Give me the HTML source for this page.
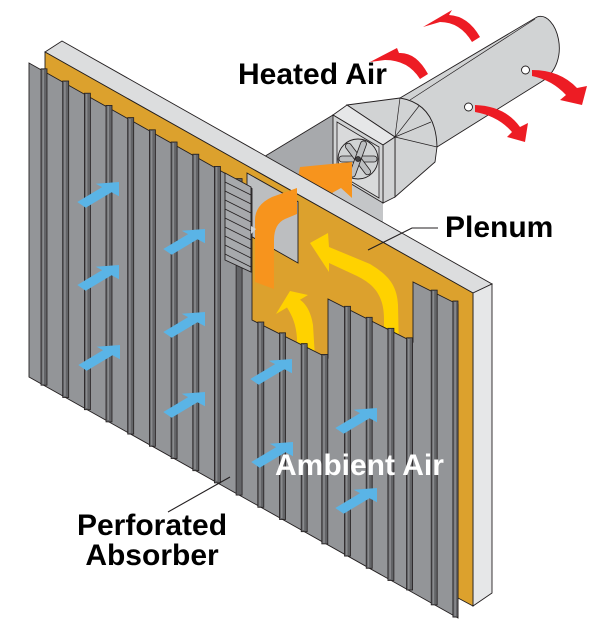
<!DOCTYPE html>
<html>
<head>
<meta charset="utf-8">
<style>
  html,body{margin:0;padding:0;background:#fff;}
  svg{display:block;}
  .t{font-family:"Liberation Sans",Arial,sans-serif;font-weight:bold;font-size:30px;}
</style>
</head>
<body>
<svg width="615" height="629" viewBox="0 0 615 629" xmlns="http://www.w3.org/2000/svg">
  <rect width="615" height="629" fill="#fff"/>

  <!-- cylinder duct -->
  <path d="M400,98 L537,17 C556,10 574,62 541,82 L437,147 L420,120 Z" fill="#d1d3d4" stroke="#231f20" stroke-width="0.9"/>
  <line x1="410" y1="100" x2="535" y2="19" stroke="#231f20" stroke-width="0.7"/>

  <!-- transition piece -->
  <path d="M347,105 L400,98 Q436,104 437,147 L435,162 L395,197 L395,137 Z" fill="#d1d3d4" stroke="#231f20" stroke-width="0.9"/>
  <g stroke="#231f20" stroke-width="0.7">
    <line x1="395" y1="137" x2="400" y2="98"/>
    <line x1="395" y1="137" x2="419" y2="106"/>
    <line x1="395" y1="137" x2="431" y2="122"/>
    <line x1="395" y1="137" x2="437" y2="147"/>
  </g>

  <!-- duct between wall and fan box -->
  <polygon points="262,158 333,115 333,240 262,240" fill="#a7a9ac"/>
  <line x1="262" y1="158" x2="333" y2="115" stroke="#231f20" stroke-width="0.9"/>
  <polygon points="333,173 383,203 383,240 333,240" fill="#c4c6c8"/>

  <!-- fan box -->
  <polygon points="333,115 347,105 395,137 383,145" fill="#e6e7e8" stroke="#231f20" stroke-width="0.9"/>
  <polygon points="383,145 395,137 395,197 383,203" fill="#d1d3d4" stroke="#231f20" stroke-width="0.9"/>
  <polygon points="333,115 383,145 383,203 333,173" fill="#d1d3d4" stroke="#231f20" stroke-width="0.9"/>
  <polygon points="337,122 379,147 379,198 337,173" fill="#d9dadb" stroke="#231f20" stroke-width="0.8"/>
  <circle cx="358" cy="159" r="20" fill="#d1d3d4" stroke="#231f20" stroke-width="0.9"/>
  <g transform="translate(358,159)" fill="#bcbec0" stroke="#231f20" stroke-width="0.8">
    <rect x="-19" y="-3" width="38" height="6" rx="3"/>
    <rect x="-19" y="-3" width="38" height="6" rx="3" transform="rotate(53)"/>
    <rect x="-19" y="-3" width="38" height="6" rx="3" transform="rotate(110)"/>
    <circle r="2.5" fill="#414042"/>
  </g>

  <!-- orange arrow head entering fan -->
  <polygon points="300,167 352,162 352,198 341,188 312,204 295,192" fill="#f7941d"/>

  <!-- red heated air arrows -->
  <g fill="#ed1c24">
    <path d="M480,37 Q468,16 449,15 L452,10 L423,27 L440,22 Q460,22 472,42 Z"/>
    <path d="M428,74 Q416,52 399,53 L397,48 L370,62 L385,60 Q408,60 420,79 Z"/>
    <path d="M532,70 Q560,70 577,88 L587,86 L582,105 L560,100 L566,95 Q552,80 532,76 Z"/>
    <path d="M475,105 Q505,106 520,127 L528,123 L525,142 L507,137 L512,132 Q498,116 475,112 Z"/>
  </g>
  <circle cx="525.5" cy="70" r="4" fill="#fff" stroke="#231f20" stroke-width="0.9"/>
  <circle cx="468.5" cy="107" r="4" fill="#fff" stroke="#231f20" stroke-width="0.9"/>

  <!-- wall -->
  <polygon points="45,52 62,41 492,284 473,293" fill="#dcddde" stroke="#231f20" stroke-width="0.9"/>
  <polygon points="473,293 492,284 492,593 473,606" fill="#e6e7e8" stroke="#231f20" stroke-width="0.9"/>
  <polygon points="45,52 473,293 473,606 458,598 45,370" fill="#dca12d" stroke="#231f20" stroke-width="0.9"/>

  <!-- wall opening -->
  <polygon points="247,173 298,201.7 298,263 247,234" fill="#bcbec0" stroke="#231f20" stroke-width="0.9"/>

  <!-- orange arrow in plenum -->
  <path d="M255,282 L255,220 Q255,205 272,197 L297,188 L297,214 L285,219 Q274,224 274,240 L274,289 Z" fill="#f7941d"/>

  <!-- yellow arrows -->
  <g fill="#ffd200">
    <path d="M399,352 L398,305 C397,285 388,275 370,264 L329,247 L328,233 L310,243 L329,272 L329,263 L357,276 C375,285 384,296 384,320 L384,352 Z"/>
    <path d="M315,358 L313,325 C311,312 306,304 300,299.8 L308,295 L290,291 L276,314 L287,307.5 C293,317 296,325 297,338 L297,358 Z"/>
  </g>

  <!-- absorber panel -->
  <polygon points="29,63 252,188.5 252,320 328,358 328,299 413,342 413,282 458,304.5 458,618 29,377" fill="#939598" stroke="#231f20" stroke-width="0.9"/>
  <g fill="#636467" stroke="#231f20" stroke-width="0.8">
    <rect x="41.0" y="68.8" width="6" height="316.4"/>
    <rect x="62.7" y="81.0" width="6" height="316.5"/>
    <rect x="84.4" y="93.2" width="6" height="316.5"/>
    <rect x="106.0" y="105.4" width="6" height="316.5"/>
    <rect x="127.7" y="117.6" width="6" height="316.5"/>
    <rect x="149.4" y="129.8" width="6" height="316.5"/>
    <rect x="171.1" y="142.0" width="6" height="316.5"/>
    <rect x="192.8" y="154.2" width="6" height="316.5"/>
    <rect x="214.4" y="166.4" width="6" height="316.5"/>
    <rect x="236.1" y="178.6" width="6" height="316.5"/>
    <rect x="257.8" y="322.0" width="6" height="185.3"/>
    <rect x="279.5" y="332.8" width="6" height="186.7"/>
    <rect x="301.2" y="343.6" width="6" height="188.1"/>
    <rect x="321.8" y="354.4" width="6" height="189.5"/>
    <rect x="344.5" y="306.3" width="6" height="249.8"/>
    <rect x="366.2" y="317.3" width="6" height="251.0"/>
    <rect x="387.9" y="328.3" width="6" height="252.2"/>
    <rect x="406.6" y="337.8" width="6" height="252.2"/>
    <rect x="431.2" y="290.1" width="6" height="314.8"/>
    <rect x="452.9" y="301.0" width="5.1" height="316.1"/>
  </g>
  <g fill="#8a8b8e">
    <rect x="42.4" y="70" width="1.6" height="314"/>
    <rect x="64.1" y="82" width="1.6" height="314"/>
    <rect x="85.8" y="94" width="1.6" height="314"/>
    <rect x="107.4" y="106" width="1.6" height="314"/>
    <rect x="129.1" y="119" width="1.6" height="314"/>
    <rect x="150.8" y="131" width="1.6" height="314"/>
    <rect x="172.5" y="143" width="1.6" height="314"/>
    <rect x="194.2" y="155" width="1.6" height="314"/>
    <rect x="215.8" y="167" width="1.6" height="314"/>
    <rect x="259.2" y="323" width="1.6" height="183"/>
    <rect x="280.9" y="334" width="1.6" height="184"/>
    <rect x="302.6" y="345" width="1.6" height="185"/>
    <rect x="323.2" y="356" width="1.6" height="187"/>
    <rect x="345.9" y="307" width="1.6" height="248"/>
    <rect x="367.6" y="318" width="1.6" height="249"/>
    <rect x="389.3" y="329" width="1.6" height="250"/>
    <rect x="408.0" y="339" width="1.6" height="250"/>
    <rect x="432.6" y="291" width="1.6" height="313"/>
    <rect x="454.3" y="302" width="1.6" height="314"/>
  </g>

  <!-- louver -->
  <polygon points="225,173 251,187 251,272 225,260" fill="#a7a9ac" stroke="#231f20" stroke-width="0.9"/>
  <g stroke="#231f20" stroke-width="0.8">
    <line x1="225" y1="182" x2="251" y2="195"/>
    <line x1="225" y1="191" x2="251" y2="204"/>
    <line x1="225" y1="200" x2="251" y2="213"/>
    <line x1="225" y1="209" x2="251" y2="222"/>
    <line x1="225" y1="218" x2="251" y2="231"/>
    <line x1="225" y1="227" x2="251" y2="240"/>
    <line x1="225" y1="236" x2="251" y2="249"/>
    <line x1="225" y1="245" x2="251" y2="258"/>
    <line x1="225" y1="254" x2="251" y2="267"/>
  </g>
  <polygon points="251,226 256,229 251,234" fill="#d1d3d4"/>

  <!-- blue ambient air arrows -->
  <g fill="#5ab4e6">
    <polygon transform="translate(119,182)" points="0,0 -23.3,1.7 -16.9,5.1 -41.7,20 -33.3,25.7 -7.5,10.2 0,14.3"/>
    <polygon transform="translate(119,265)" points="0,0 -23.3,1.7 -16.9,5.1 -41.7,20 -33.3,25.7 -7.5,10.2 0,14.3"/>
    <polygon transform="translate(120,345)" points="0,0 -23.3,1.7 -16.9,5.1 -41.7,20 -33.3,25.7 -7.5,10.2 0,14.3"/>
    <polygon transform="translate(205,229)" points="0,0 -23.3,1.7 -16.9,5.1 -41.7,20 -33.3,25.7 -7.5,10.2 0,14.3"/>
    <polygon transform="translate(205,312)" points="0,0 -23.3,1.7 -16.9,5.1 -41.7,20 -33.3,25.7 -7.5,10.2 0,14.3"/>
    <polygon transform="translate(205,392)" points="0,0 -23.3,1.7 -16.9,5.1 -41.7,20 -33.3,25.7 -7.5,10.2 0,14.3"/>
    <polygon transform="translate(292,359)" points="0,0 -23.3,1.7 -16.9,5.1 -41.7,20 -33.3,25.7 -7.5,10.2 0,14.3"/>
    <polygon transform="translate(293,442)" points="0,0 -23.3,1.7 -16.9,5.1 -41.7,20 -33.3,25.7 -7.5,10.2 0,14.3"/>
    <polygon transform="translate(377,408)" points="0,0 -23.3,1.7 -16.9,5.1 -41.7,20 -33.3,25.7 -7.5,10.2 0,14.3"/>
    <polygon transform="translate(377,488)" points="0,0 -23.3,1.7 -16.9,5.1 -41.7,20 -33.3,25.7 -7.5,10.2 0,14.3"/>
  </g>

  <!-- leader lines -->
  <polyline points="438,228 412,228 368,250" fill="none" stroke="#231f20" stroke-width="1.1"/>
  <line x1="168" y1="512" x2="230" y2="477" stroke="#231f20" stroke-width="1.1"/>

  <!-- labels -->
  <text class="t" x="238" y="84" fill="#000">Heated Air</text>
  <text class="t" x="445" y="237" fill="#000">Plenum</text>
  <text class="t" x="275" y="475" fill="#fff">Ambient Air</text>
  <text class="t" x="152" y="535" fill="#000" text-anchor="middle">Perforated</text>
  <text class="t" x="152" y="565" fill="#000" text-anchor="middle">Absorber</text>
</svg>
</body>
</html>
